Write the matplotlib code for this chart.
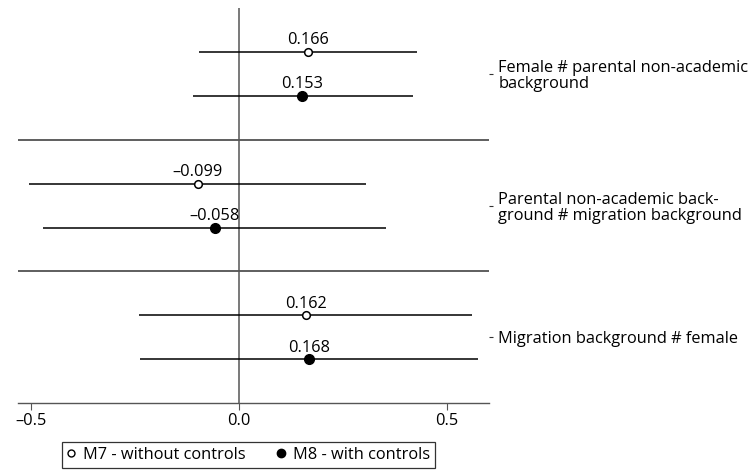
import matplotlib.pyplot as plt

plt.rcParams['font.family'] = ['Open Sans', 'DejaVu Sans']

terms = ["Female # parental non-academic\nbackground",
         "Parental non-academic back-\nground # migration background",
         "Migration background # female"]

m7_coef = [0.166, -0.099, 0.162]
m7_lo = [-0.096, -0.505, -0.240]
m7_hi = [0.428, 0.305, 0.562]

m8_coef = [0.153, -0.058, 0.168]
m8_lo = [-0.111, -0.471, -0.238]
m8_hi = [0.418, 0.353, 0.575]

xticks = [-0.5, 0.0, 0.5]
xtick_labels = ["\u20130.5", "0.0", "0.5"]

dark = "#333333"
fs = 11.8
fig = plt.figure(figsize=(7.53, 4.71), dpi=100)
ax = fig.add_axes([0.024, 0.144, 0.625, 0.839])

groups = [1, 2, 3]
off = 0.167


def fmt(v):
    s = f"{v:.3f}"
    return s.replace("-", "\u2013")


for g, c, lo, hi in zip(groups, m7_coef, m7_lo, m7_hi):
    y = g - off
    ax.hlines(y, lo, hi, color="black", lw=1.1, zorder=2)
    ax.plot(c, y, "o", ms=5.5, mfc="white", mec="black", mew=1.1, zorder=3)
    ax.annotate(fmt(c), (c, y), xytext=(0, 2.5), textcoords="offset points",
                ha="center", va="bottom", fontsize=fs)

for g, c, lo, hi in zip(groups, m8_coef, m8_lo, m8_hi):
    y = g + off
    ax.hlines(y, lo, hi, color="black", lw=1.1, zorder=2)
    ax.plot(c, y, "o", ms=7, color="black", zorder=3)
    ax.annotate(fmt(c), (c, y), xytext=(0, 2.5), textcoords="offset points",
                ha="center", va="bottom", fontsize=fs)

# group separators and zero reference
for s in [1.5, 2.5]:
    ax.axhline(s, color=dark, lw=1.1, zorder=1)
ax.axvline(0, color="#555555", lw=1.1, zorder=1)

ax.set_xlim(-0.531, 0.601)
ax.set_ylim(3.5, 0.5)
ax.set_xticks(xticks)
ax.set_xticklabels(xtick_labels, fontsize=fs)

ax.yaxis.tick_right()
ax.set_yticks(groups)
ax.set_yticklabels(terms, fontsize=fs, ha="left", linespacing=1.0)
ax.tick_params(axis="y", length=3, width=0.8, color=dark, pad=4)
ax.tick_params(axis="x", length=5, width=0.8, color="#555555", pad=2)

for side in ["top", "left", "right"]:
    ax.spines[side].set_visible(False)
ax.spines["bottom"].set_color("#555555")
ax.spines["bottom"].set_linewidth(1.0)

h7 = plt.Line2D([], [], ls="none", marker="o", ms=5, mfc="white", mec="black")
h8 = plt.Line2D([], [], ls="none", marker="o", ms=6, color="black")
leg = ax.legend([h7, h8], ["M7 - without controls", "M8 - with controls"],
                loc="upper center", bbox_to_anchor=(0.49, -0.098), ncol=2,
                frameon=True, fancybox=False, fontsize=fs,
                handlelength=0.5, handletextpad=0.5, columnspacing=1.9,
                borderpad=0.3, borderaxespad=0)
leg.get_frame().set_edgecolor("black")
leg.get_frame().set_linewidth(0.9)

fig.savefig("out.png", dpi=100)
